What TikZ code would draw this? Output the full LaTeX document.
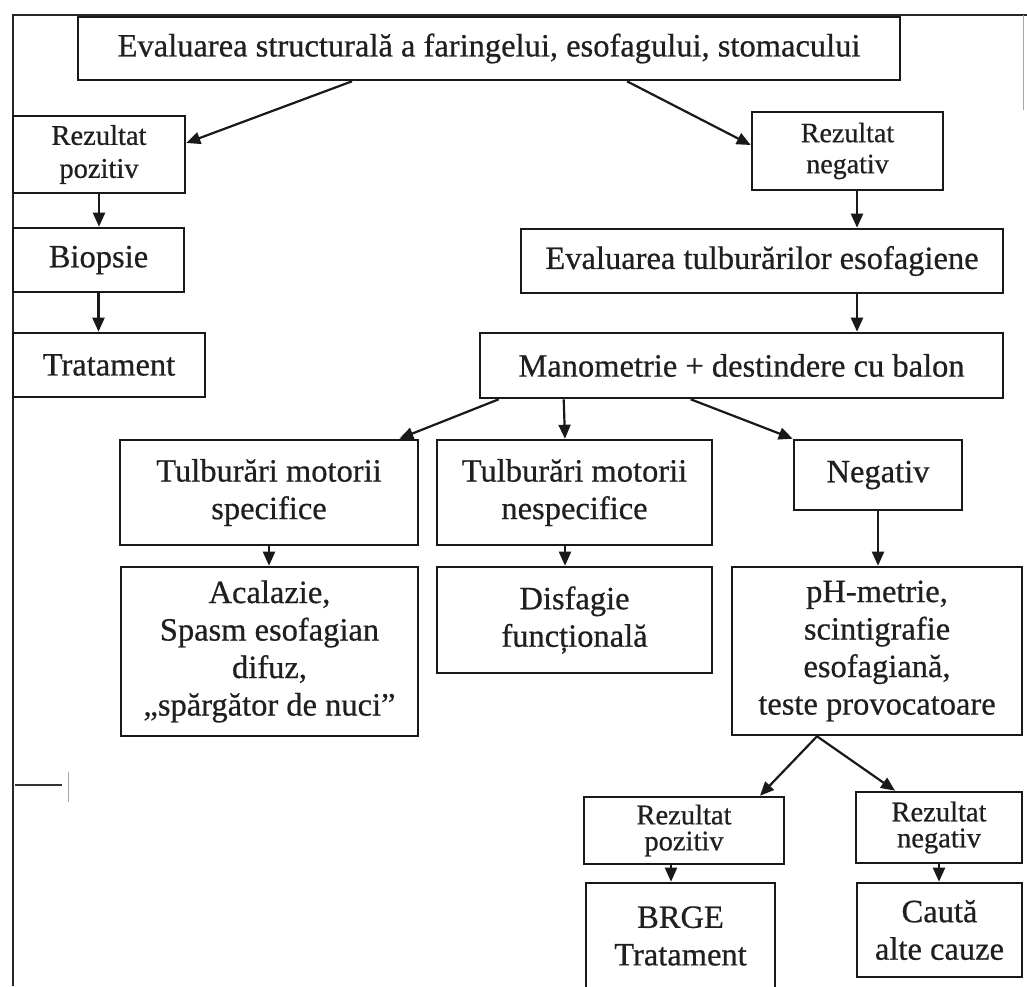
\documentclass[tikz,border=0pt]{standalone}
\usepackage{fontspec}
\setmainfont{Liberation Serif}[FakeBold=0.6]
\usetikzlibrary{arrows.meta}
\begin{document}
\begin{tikzpicture}[x=1pt,y=-1pt,
  box/.style={draw=black!90, line width=2.6pt, inner sep=0pt, align=center, text=black!88,
              font=\fontsize{32.5}{37.5}\selectfont},
  resA/.style={font=\fontsize{28.5}{33}\selectfont},
  resB/.style={font=\fontsize{28}{31}\selectfont},
  resC/.style={font=\fontsize{28.5}{26}\selectfont},
  arr/.style={draw=black!90, line width=2.2pt, -{Triangle[length=14pt,width=12pt]}},
  frame/.style={draw=black!85, line width=2.2pt},
  faint/.style={draw=black!35, line width=1pt}
]
\path[use as bounding box, clip] (0,0) rectangle (1027,986);
\fill[white] (0,0) rectangle (1027,986);

% outer frame and scan marks
\draw[frame] (13,986) -- (13,15) -- (1027,15);
\draw[faint] (1023,15) -- (1023,110);
\draw[line width=1.4pt, black!80] (15,785) -- (62,785);
\draw[faint] (68,772) -- (68,802);

% boxes
\node[box, minimum width=822pt, minimum height=63pt] (top) at (489,48.5)
  {Evaluarea structurală a faringelui, esofagului, stomacului};
\node[box, resA, minimum width=172pt, minimum height=77pt] (rp1) at (99,154.5)
  {Rezultat\\pozitiv};
\node[box, minimum width=171pt, minimum height=64pt] (bio) at (98.5,260) {Biopsie};
\node[box, minimum width=192pt, minimum height=64pt] (trat) at (109,365) {Tratament};
\node[box, resB, minimum width=191pt, minimum height=78pt] (rn1) at (847.5,151)
  {Rezultat\\negativ};
\node[box, minimum width=482pt, minimum height=64pt] (eval) at (762,261)
  {Evaluarea tulburărilor esofagiene};
\node[box, minimum width=523pt, minimum height=65pt] (mano) at (741.5,365.5)
  {Manometrie + destindere cu balon};
\node[box, minimum width=298pt, minimum height=105pt] (spec) at (269,492.5)
  {Tulburări motorii\\specifice};
\node[box, minimum width=275pt, minimum height=105pt] (nesp) at (574.5,492.5)
  {Tulburări motorii\\nespecifice};
\node[box, minimum width=168pt, minimum height=70pt] (neg) at (878,475) {Negativ};
\node[box, minimum width=297pt, minimum height=169pt] (acal) at (269.5,651.5)
  {Acalazie,\\Spasm esofagian\\difuz,\\„spărgător de nuci”};
\node[box, minimum width=275pt, minimum height=106pt] (disf) at (574.5,620)
  {Disfagie\\funcțională};
\node[box, minimum width=290pt, minimum height=168pt] (ph) at (877,651)
  {pH-metrie,\\scintigrafie\\esofagiană,\\teste provocatoare};
\node[box, resC, minimum width=200pt, minimum height=67pt] (rp2) at (684,830.5)
  {Rezultat\\pozitiv};
\node[box, resC, minimum width=166pt, minimum height=71pt] (rn2) at (939,827.5)
  {Rezultat\\negativ};
\node[box, minimum width=189pt, minimum height=106pt] (brge) at (680.5,936)
  {BRGE\\Tratament};
\node[box, minimum width=165pt, minimum height=94pt] (caut) at (939.5,930)
  {Caută\\alte cauze};

% connectors
\draw[arr] ([xshift=-137pt]top.south) -- ([yshift=11.5pt]rp1.east);
\draw[arr] ([xshift=138pt]top.south) -- ([yshift=6pt]rn1.west);
\draw[arr] (rp1.south) -- (rp1.south |- bio.north);
\draw[arr] (bio.south) -- (bio.south |- trat.north);
\draw[arr] ([xshift=9.5pt]rn1.south) -- ([xshift=95pt]eval.north);
\draw[arr] ([xshift=95pt]eval.south) -- ([xshift=115.5pt]mano.north);
\draw[arr] ([xshift=20pt]mano.south west) -- ([xshift=-20pt]spec.north east);
\draw[arr] ([xshift=85pt]mano.south west) -- ([xshift=-9.5pt]nesp.north);
\draw[arr] ([xshift=212pt]mano.south west) -- (neg.north west);
\draw[arr] (spec.south) -- (spec.south |- acal.north);
\draw[arr] ([xshift=-9.5pt]nesp.south) -- ([xshift=-9.5pt]disf.north);
\draw[arr] (neg.south) -- (neg.south |- ph.north);
\draw[arr] ([xshift=-60pt]ph.south) -- ([xshift=76pt]rp2.north);
\draw[arr] ([xshift=-60pt]ph.south) -- ([xshift=-44pt]rn2.north);
\draw[arr] ([xshift=-13pt]rp2.south) -- ([xshift=-9.5pt]brge.north);
\draw[arr] (rn2.south) -- (rn2.south |- caut.north);
\end{tikzpicture}
\end{document}
